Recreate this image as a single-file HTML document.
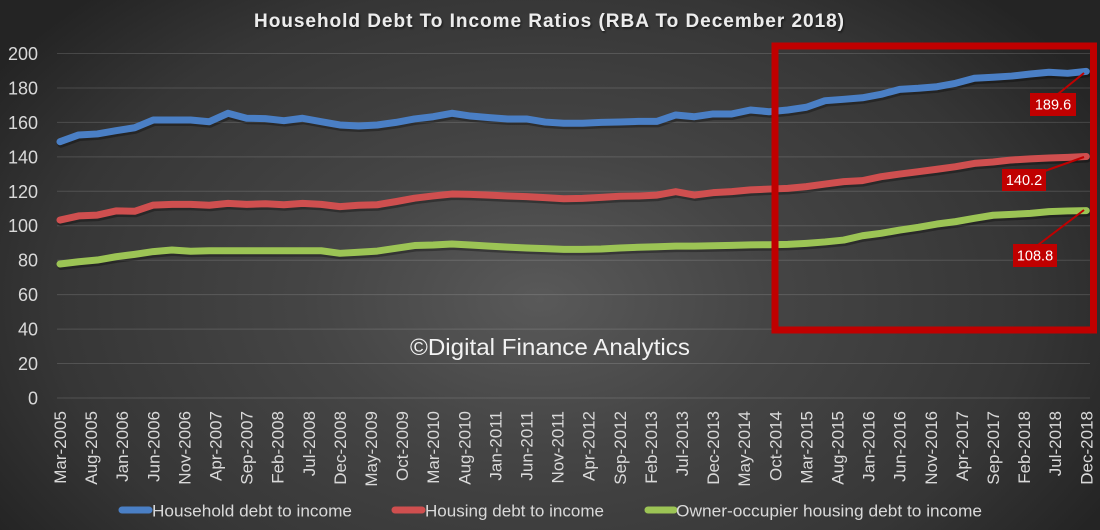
<!DOCTYPE html>
<html><head><meta charset="utf-8"><style>
html,body{margin:0;padding:0;}
body{width:1100px;height:530px;overflow:hidden;background:radial-gradient(650px 420px at 540px 300px,#595959 0%,#454545 35%,#363636 75%,#242424 100%);}
svg{display:block;font-family:"Liberation Sans",sans-serif;}
</style></head><body>
<svg width="1100" height="530" viewBox="0 0 1100 530" xmlns="http://www.w3.org/2000/svg">
<defs>
<filter id="ts" x="-5%" y="-30%" width="110%" height="160%"><feDropShadow dx="1" dy="1.5" stdDeviation="1" flood-color="#000" flood-opacity="0.6"/></filter>
</defs>
<!-- title -->
<text x="254" y="27" font-size="19" font-weight="bold" fill="#ececec" textLength="590" lengthAdjust="spacing" filter="url(#ts)">Household Debt To Income Ratios (RBA To December 2018)</text>
<!-- gridlines -->
<g stroke="#ffffff" stroke-opacity="0.14" stroke-width="1">
<line x1="57" x2="1090" y1="398" y2="398"/>
<line x1="57" x2="1090" y1="363.55" y2="363.55"/>
<line x1="57" x2="1090" y1="329.1" y2="329.1"/>
<line x1="57" x2="1090" y1="294.65" y2="294.65"/>
<line x1="57" x2="1090" y1="260.2" y2="260.2"/>
<line x1="57" x2="1090" y1="225.75" y2="225.75"/>
<line x1="57" x2="1090" y1="191.3" y2="191.3"/>
<line x1="57" x2="1090" y1="156.85" y2="156.85"/>
<line x1="57" x2="1090" y1="122.4" y2="122.4"/>
<line x1="57" x2="1090" y1="87.95" y2="87.95"/>
<line x1="57" x2="1090" y1="53.5" y2="53.5"/>
</g>
<!-- y labels -->
<g font-size="18" fill="#d9d9d9" text-anchor="end">
<text x="38" y="404.5">0</text>
<text x="38" y="370">20</text>
<text x="38" y="335.6">40</text>
<text x="38" y="301.1">60</text>
<text x="38" y="266.7">80</text>
<text x="38" y="232.2">100</text>
<text x="38" y="197.8">120</text>
<text x="38" y="163.3">140</text>
<text x="38" y="128.9">160</text>
<text x="38" y="94.4">180</text>
<text x="38" y="60">200</text>
</g>
<!-- x labels -->
<g font-size="17" fill="#d9d9d9" text-anchor="end">
<text transform="translate(66,411) rotate(-90)">Mar-2005</text>
<text transform="translate(97.1,411) rotate(-90)">Aug-2005</text>
<text transform="translate(128.2,411) rotate(-90)">Jan-2006</text>
<text transform="translate(159.3,411) rotate(-90)">Jun-2006</text>
<text transform="translate(190.4,411) rotate(-90)">Nov-2006</text>
<text transform="translate(221.5,411) rotate(-90)">Apr-2007</text>
<text transform="translate(252.6,411) rotate(-90)">Sep-2007</text>
<text transform="translate(283.7,411) rotate(-90)">Feb-2008</text>
<text transform="translate(314.8,411) rotate(-90)">Jul-2008</text>
<text transform="translate(345.9,411) rotate(-90)">Dec-2008</text>
<text transform="translate(377,411) rotate(-90)">May-2009</text>
<text transform="translate(408.1,411) rotate(-90)">Oct-2009</text>
<text transform="translate(439.2,411) rotate(-90)">Mar-2010</text>
<text transform="translate(470.3,411) rotate(-90)">Aug-2010</text>
<text transform="translate(501.4,411) rotate(-90)">Jan-2011</text>
<text transform="translate(532.5,411) rotate(-90)">Jun-2011</text>
<text transform="translate(563.6,411) rotate(-90)">Nov-2011</text>
<text transform="translate(594.7,411) rotate(-90)">Apr-2012</text>
<text transform="translate(625.8,411) rotate(-90)">Sep-2012</text>
<text transform="translate(656.9,411) rotate(-90)">Feb-2013</text>
<text transform="translate(688,411) rotate(-90)">Jul-2013</text>
<text transform="translate(719.1,411) rotate(-90)">Dec-2013</text>
<text transform="translate(750.2,411) rotate(-90)">May-2014</text>
<text transform="translate(781.3,411) rotate(-90)">Oct-2014</text>
<text transform="translate(812.4,411) rotate(-90)">Mar-2015</text>
<text transform="translate(843.5,411) rotate(-90)">Aug-2015</text>
<text transform="translate(874.6,411) rotate(-90)">Jan-2016</text>
<text transform="translate(905.7,411) rotate(-90)">Jun-2016</text>
<text transform="translate(936.8,411) rotate(-90)">Nov-2016</text>
<text transform="translate(967.9,411) rotate(-90)">Apr-2017</text>
<text transform="translate(999,411) rotate(-90)">Sep-2017</text>
<text transform="translate(1030.1,411) rotate(-90)">Feb-2018</text>
<text transform="translate(1061.2,411) rotate(-90)">Jul-2018</text>
<text transform="translate(1092.3,411) rotate(-90)">Dec-2018</text>
</g>
<!-- watermark -->
<text x="410" y="355" font-size="23" fill="#f2f2f2" textLength="280" lengthAdjust="spacingAndGlyphs">©Digital Finance Analytics</text>
<!-- series shadows -->
<g transform="translate(1,2.5)" opacity="0.3">
<g transform="translate(60,398) scale(18.66,-1.7225)" fill="none" stroke="#000" stroke-width="7" stroke-linejoin="round" stroke-linecap="round">
<polyline vector-effect="non-scaling-stroke" points="0,148.8 1,152.7 2,153.3 3,155.2 4,156.9 5,161.4 6,161.4 7,161.4 8,160.4 9,165.3 10,162.4 11,162.2 12,161 13,162.4 14,160.4 15,158.5 16,157.9 17,158.5 18,160 19,162 20,163.3 21,165.3 22,163.7 23,162.8 24,162 25,162 26,160.2 27,159.5 28,159.5 29,160 30,160.2 31,160.6 32,160.6 33,164.3 34,163.3 35,164.9 36,164.9 37,167.2 38,166.2 39,167.2 40,168.8 41,172.6 42,173.4 43,174.3 44,176.3 45,179.2 46,179.8 47,180.7 48,182.7 49,185.6 50,186.2 51,186.9 52,188.1 53,189.1 54,188.5 55,189.6"/>
<polyline vector-effect="non-scaling-stroke" points="0,103.3 1,105.7 2,106.2 3,108.6 4,108.4 5,112 6,112.4 7,112.4 8,111.9 9,113 10,112.4 11,112.8 12,112.2 13,113 14,112.4 15,111.1 16,111.9 17,112.2 18,114 19,116 20,117.3 21,118.4 22,118.2 23,117.8 24,117.3 25,116.9 26,116.3 27,115.7 28,115.9 29,116.5 30,117.1 31,117.3 32,117.8 33,119.8 34,117.8 35,119.2 36,119.8 37,120.8 38,121.3 39,121.7 40,122.7 41,124.2 42,125.6 43,126.2 44,128.5 45,130 46,131.4 47,132.8 48,134.3 49,136.2 50,137 51,138.2 52,138.8 53,139.3 54,139.7 55,140.2"/>
<polyline vector-effect="non-scaling-stroke" points="0,77.8 1,79.1 2,80.1 3,82 4,83.4 5,85 6,85.9 7,85.2 8,85.5 9,85.5 10,85.5 11,85.5 12,85.5 13,85.5 14,85.5 15,84 16,84.6 17,85.3 18,86.9 19,88.5 20,88.8 21,89.4 22,88.8 23,88.2 24,87.6 25,87.1 26,86.7 27,86.3 28,86.3 29,86.5 30,87.1 31,87.5 32,87.8 33,88.2 34,88.2 35,88.4 36,88.6 37,88.9 38,89 39,89.2 40,89.8 41,90.6 42,91.7 43,94.2 44,95.6 45,97.5 46,99.1 47,101 48,102.4 49,104.3 50,106.1 51,106.6 52,107.2 53,108.2 54,108.6 55,108.8"/>
</g>
</g>
<!-- series -->
<g transform="translate(60,398) scale(18.66,-1.7225)" fill="none" stroke-width="7" stroke-linejoin="round" stroke-linecap="round">
<polyline vector-effect="non-scaling-stroke" stroke="#4a7fc5" points="0,148.8 1,152.7 2,153.3 3,155.2 4,156.9 5,161.4 6,161.4 7,161.4 8,160.4 9,165.3 10,162.4 11,162.2 12,161 13,162.4 14,160.4 15,158.5 16,157.9 17,158.5 18,160 19,162 20,163.3 21,165.3 22,163.7 23,162.8 24,162 25,162 26,160.2 27,159.5 28,159.5 29,160 30,160.2 31,160.6 32,160.6 33,164.3 34,163.3 35,164.9 36,164.9 37,167.2 38,166.2 39,167.2 40,168.8 41,172.6 42,173.4 43,174.3 44,176.3 45,179.2 46,179.8 47,180.7 48,182.7 49,185.6 50,186.2 51,186.9 52,188.1 53,189.1 54,188.5 55,189.6"/>
<polyline vector-effect="non-scaling-stroke" stroke="#cf4f4f" points="0,103.3 1,105.7 2,106.2 3,108.6 4,108.4 5,112 6,112.4 7,112.4 8,111.9 9,113 10,112.4 11,112.8 12,112.2 13,113 14,112.4 15,111.1 16,111.9 17,112.2 18,114 19,116 20,117.3 21,118.4 22,118.2 23,117.8 24,117.3 25,116.9 26,116.3 27,115.7 28,115.9 29,116.5 30,117.1 31,117.3 32,117.8 33,119.8 34,117.8 35,119.2 36,119.8 37,120.8 38,121.3 39,121.7 40,122.7 41,124.2 42,125.6 43,126.2 44,128.5 45,130 46,131.4 47,132.8 48,134.3 49,136.2 50,137 51,138.2 52,138.8 53,139.3 54,139.7 55,140.2"/>
<polyline vector-effect="non-scaling-stroke" stroke="#9cc455" points="0,77.8 1,79.1 2,80.1 3,82 4,83.4 5,85 6,85.9 7,85.2 8,85.5 9,85.5 10,85.5 11,85.5 12,85.5 13,85.5 14,85.5 15,84 16,84.6 17,85.3 18,86.9 19,88.5 20,88.8 21,89.4 22,88.8 23,88.2 24,87.6 25,87.1 26,86.7 27,86.3 28,86.3 29,86.5 30,87.1 31,87.5 32,87.8 33,88.2 34,88.2 35,88.4 36,88.6 37,88.9 38,89 39,89.2 40,89.8 41,90.6 42,91.7 43,94.2 44,95.6 45,97.5 46,99.1 47,101 48,102.4 49,104.3 50,106.1 51,106.6 52,107.2 53,108.2 54,108.6 55,108.8"/>
</g>
<!-- highlight box -->
<rect x="775" y="46" width="318.5" height="284" fill="none" stroke="#c00000" stroke-width="7"/>
<!-- data labels -->
<g stroke="#c00000" stroke-width="2">
<line x1="1084" y1="73" x2="1058" y2="94"/>
<line x1="1084" y1="157" x2="1042" y2="172"/>
<line x1="1084" y1="210" x2="1038" y2="245"/>
</g>
<g fill="#c00000">
<rect x="1030" y="93" width="46" height="23"/>
<rect x="1002" y="169" width="44" height="22"/>
<rect x="1013" y="244" width="44" height="23"/>
</g>
<g font-size="14.5" fill="#ffffff" text-anchor="middle">
<text x="1053" y="109.5">189.6</text>
<text x="1024" y="185">140.2</text>
<text x="1035" y="260.5">108.8</text>
</g>
<!-- legend -->
<g stroke-width="7" stroke-linecap="round">
<line x1="122" y1="510" x2="149" y2="510" stroke="#4a7fc5"/>
<line x1="395" y1="510" x2="422" y2="510" stroke="#cf4f4f"/>
<line x1="648" y1="510" x2="674" y2="510" stroke="#9cc455"/>
</g>
<g font-size="17" fill="#d9d9d9">
<text x="152" y="516.5" textLength="200" lengthAdjust="spacingAndGlyphs">Household debt to income</text>
<text x="425" y="516.5" textLength="179" lengthAdjust="spacingAndGlyphs">Housing debt to income</text>
<text x="676" y="516.5" textLength="306" lengthAdjust="spacingAndGlyphs">Owner-occupier housing debt to income</text>
</g>
</svg>
</body></html>
